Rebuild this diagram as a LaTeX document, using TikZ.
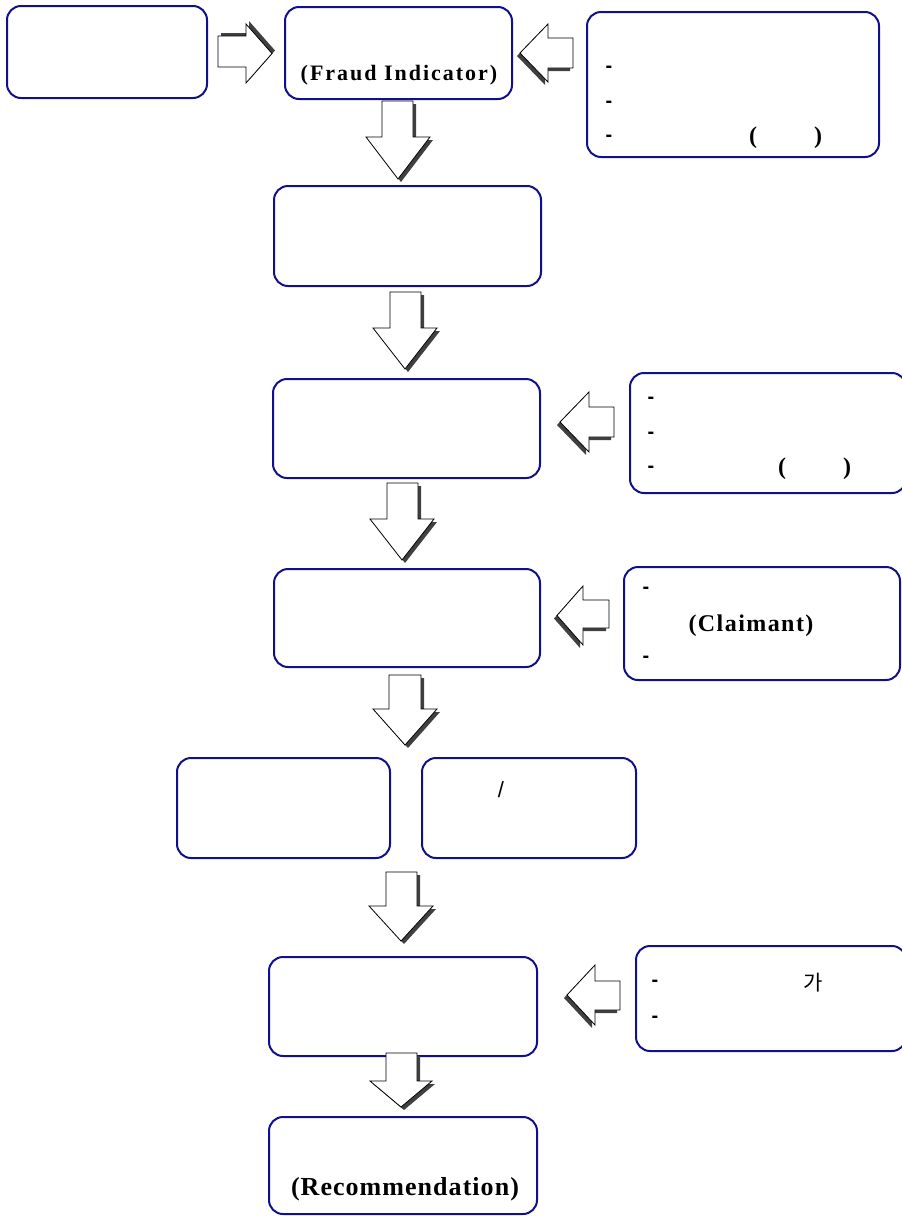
\documentclass[tikz,border=0pt]{standalone}
\usepackage{fontspec}
\setmainfont{Liberation Serif}
\newfontfamily\sansf{Liberation Sans}
\newfontfamily\korf{Noto Sans CJK KR}
\definecolor{boxblue}{RGB}{16,16,140}
\definecolor{shade}{RGB}{64,64,64}
\tikzset{
  box/.style={draw=boxblue, line width=2pt, rounded corners=14pt, fill=white, inner sep=0pt, outer sep=0pt},
  arrline/.style={draw=black, line width=0.8pt, fill=white, line join=miter},
  shadowfill/.style={fill=shade},
  bigtxt/.style={inner sep=0pt, font=\bfseries\fontsize{22}{26}\selectfont\addfontfeature{LetterSpace=9}},
  hyph/.style={inner sep=0pt, font=\sansf\bfseries\fontsize{20}{24}\selectfont},
  paren/.style={inner sep=0pt, font=\bfseries\fontsize{24}{28}\selectfont},
}
\newcommand\mkbox[5]{\node[box, anchor=north west, minimum width={(#4-#2)*1pt}, minimum height={(#5-#3)*1pt}] (#1) at (#2,#3) {};}
% down arrow: xl, sl, sr, xr, ytop, yhead, ytip
\newcommand\downarr[7]{%
  \path[shadowfill, shift={(3,3)}] (#2,#5) -- (#3,#5) -- (#3,#6) -- (#4,#6) -- ({(#1+#4)/2},#7) -- (#1,#6) -- (#2,#6) -- cycle;
  \path[arrline] (#2,#5) -- (#3,#5) -- (#3,#6) -- (#4,#6) -- ({(#1+#4)/2},#7) -- (#1,#6) -- (#2,#6) -- cycle;}
% horizontal arrow: shadowshift, xtail, xbase, xtip, headtop, shafttop, shaftbot, headbot
\newcommand\harr[8]{%
  \path[shadowfill, shift={#1}] (#2,#6) -- (#3,#6) -- (#3,#5) -- (#4,{(#5+#8)/2}) -- (#3,#8) -- (#3,#7) -- (#2,#7) -- cycle;
  \path[arrline] (#2,#6) -- (#3,#6) -- (#3,#5) -- (#4,{(#5+#8)/2}) -- (#3,#8) -- (#3,#7) -- (#2,#7) -- cycle;}
\begin{document}
\begin{tikzpicture}[x=1pt,y=-1pt]
\useasboundingbox (0,0) rectangle (902,1216);
\clip (0,0) rectangle (902,1216);
% boxes
\mkbox{A}{7}{6}{207}{98}
\mkbox{B}{285}{7}{512}{99}
\mkbox{C}{587}{12}{879}{157}
\mkbox{D}{274}{186}{541}{286}
\mkbox{E}{273}{379}{540}{478}
\mkbox{F}{630}{373}{906}{493}
\mkbox{G}{274}{569}{540}{667}
\mkbox{H}{624}{567}{900}{680}
\mkbox{I}{177}{758}{390}{858}
\mkbox{J}{422}{758}{636}{858}
\mkbox{K}{269}{957}{537}{1056}
\mkbox{L}{636}{946}{906}{1051}
\mkbox{M}{269}{1117}{537}{1214}
% arrows
\harr{(3,-3)}{218}{246}{272}{24}{36}{67}{83}
\harr{(-3,3)}{573}{548}{520}{24}{38}{68}{82}
\harr{(-3,3)}{614}{589}{560}{392}{407}{437}{452}
\harr{(-3,3)}{609}{583}{557}{586}{600}{628}{645}
\harr{(-3,3)}{620}{595}{567}{965}{981}{1010}{1025}
\downarr{366}{382}{413}{430}{101}{137}{179}
\downarr{373}{390}{421}{437}{292}{328}{369}
\downarr{370}{387}{418}{434}{483}{519}{560}
\downarr{373}{389}{421}{437}{675}{709}{745}
\downarr{369}{386}{417}{433}{872}{906}{941}
\downarr{370}{386}{417}{432}{1053}{1081}{1107}
% texts
\node[bigtxt, anchor=base] (tB) at (399,80) {(Fraud Indicator)};
\node[hyph] (c1) at (609,69) {-};
\node[hyph] (c2) at (609,104) {-};
\node[hyph] (c3) at (609,138) {-};
\node[paren] (c4) at (753,138) {(};
\node[paren] (c5) at (818,138) {)};
\node[hyph] (f1) at (651,400) {-};
\node[hyph] (f2) at (651,435) {-};
\node[hyph] (f3) at (651,469) {-};
\node[paren] (f4) at (782,469) {(};
\node[paren] (f5) at (847,469) {)};
\node[hyph] (h1) at (646,590) {-};
\node[hyph] (h2) at (646,659) {-};
\node[bigtxt, font=\bfseries\fontsize{24}{28}\selectfont\addfontfeature{LetterSpace=6}] (hC) at (751,626) {(Claimant)};
\node[inner sep=0pt, font=\sansf\fontsize{22}{26}\selectfont] (jS) at (501,790) {/};
\node[hyph] (l1) at (655,983) {-};
\node[hyph] (l2) at (655,1019) {-};
\node[inner sep=0pt, font=\korf\fontsize{21}{25}\selectfont] (lK) at (813,983) {가};
\node[bigtxt, anchor=base, font=\bfseries\fontsize{26}{30}\selectfont\addfontfeature{LetterSpace=4}] (tM) at (405,1195) {(Recommendation)};
\end{tikzpicture}
\end{document}
